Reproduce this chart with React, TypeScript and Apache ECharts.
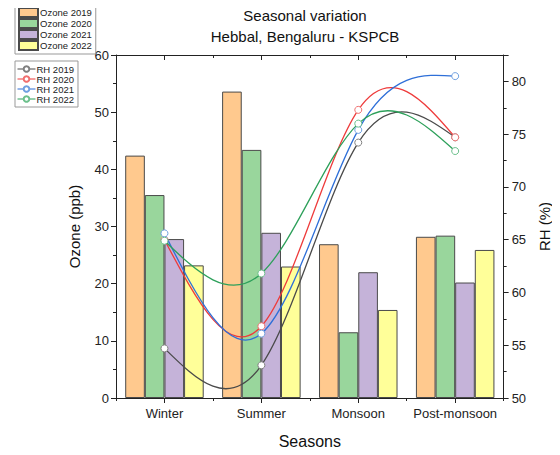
import React, { useEffect, useRef } from "react";
import * as echarts from "echarts";

const seasons = ["Winter", "Summer", "Monsoon", "Post-monsoon"];

const ozoneNames = ["Ozone 2019", "Ozone 2020", "Ozone 2021", "Ozone 2022"];
const ozone2019 = [42.4, 53.6, 26.9, 28.2];
const ozone2020 = [35.5, 43.4, 11.5, 28.4];
const ozone2021 = [27.8, 28.9, 22.0, 20.2];
const ozone2022 = [23.2, 23.0, 15.4, 25.9];

const rhNames = ["RH 2019", "RH 2020", "RH 2021", "RH 2022"];
const rh2019 = [54.7, 53.1, 74.2, 74.7];
const rh2020 = [65.0, 56.8, 77.3, 74.7];
const rh2021 = [65.6, 56.1, 75.4, 80.5];
const rh2022 = [64.9, 61.8, 76.0, 73.4];

const barColors = ["#FFC98E", "#99D69C", "#C5B3D9", "#FFFF99"];
const lineColors = ["#4a4a4a", "#EE3B3B", "#2E6FD8", "#2DA05A"];
const markerColors = ["#808080", "#F07070", "#6FA0E0", "#6CC08C"];

// natural cubic spline through pixel points -> SVG path (bezier segments)
function splinePath(pts: number[][]): string {
  const n = pts.length;
  if (n < 2) return "";
  const h = pts[1][0] - pts[0][0];
  const y = pts.map((p) => p[1]);
  const M = new Array(n).fill(0);
  if (n === 4) {
    const r1 = (6 / (h * h)) * (y[2] - 2 * y[1] + y[0]);
    const r2 = (6 / (h * h)) * (y[3] - 2 * y[2] + y[1]);
    M[1] = (4 * r1 - r2) / 15;
    M[2] = (4 * r2 - r1) / 15;
  }
  const d: number[] = [];
  for (let i = 0; i < n - 1; i++) {
    d[i] = (y[i + 1] - y[i]) / h - (h * (2 * M[i] + M[i + 1])) / 6;
  }
  d[n - 1] = (y[n - 1] - y[n - 2]) / h + (h * (M[n - 2] + 2 * M[n - 1])) / 6;
  let s = `M${pts[0][0]},${pts[0][1]}`;
  for (let i = 0; i < n - 1; i++) {
    const x0 = pts[i][0];
    const x1 = pts[i + 1][0];
    const c1x = x0 + h / 3;
    const c1y = y[i] + (d[i] * h) / 3;
    const c2x = x1 - h / 3;
    const c2y = y[i + 1] - (d[i + 1] * h) / 3;
    s += ` C${c1x},${c1y} ${c2x},${c2y} ${x1},${y[i + 1]}`;
  }
  return s;
}

export default function App() {
  const ref = useRef<HTMLDivElement>(null);
  useEffect(() => {
    if (!ref.current) return;
    const chart = echarts.init(ref.current, null, { renderer: "svg" });
    const ozoneData = [ozone2019, ozone2020, ozone2021, ozone2022];
    const rhData = [rh2019, rh2020, rh2021, rh2022];
    const font = "Arial, 'Liberation Sans', sans-serif";

    const barSeries = ozoneData.map((arr, i) => ({
      name: ozoneNames[i],
      type: "bar",
      xAxisIndex: 0,
      yAxisIndex: 0,
      data: arr,
      barGap: "0%",
      barCategoryGap: "19%",
      itemStyle: { color: barColors[i], borderColor: "#4a4a4a", borderWidth: 1 },
      z: 1,
    }));

    const curveSeries = rhData.map((arr, i) => ({
      name: rhNames[i] + " curve",
      type: "custom",
      xAxisIndex: 0,
      yAxisIndex: 1,
      data: arr.map((v, j) => [j, v]),
      z: 3,
      silent: true,
      renderItem: (params: any, api: any) => {
        if (params.dataIndex !== 0) return null;
        const pts = arr.map((v, j) => api.coord([j, v]));
        return {
          type: "path",
          shape: { pathData: splinePath(pts) },
          style: { stroke: lineColors[i], fill: "none", lineWidth: 1.3 },
        };
      },
    }));

    const markerSeries = rhData.map((arr, i) => ({
      name: rhNames[i],
      type: "line",
      xAxisIndex: 0,
      yAxisIndex: 1,
      data: arr,
      symbol: "circle",
      symbolSize: 7,
      showSymbol: true,
      lineStyle: { color: lineColors[i], width: 1, opacity: 0 },
      itemStyle: { color: "#ffffff", borderColor: markerColors[i], borderWidth: 1 },
      z: 4,
    }));

    const catTickCommon = { interval: 0 };

    const option: any = {
      animation: false,
      backgroundColor: "#ffffff",
      textStyle: { fontFamily: font },
      title: {
        text: "Seasonal variation\nHebbal, Bengaluru - KSPCB",
        left: 300,
        top: 0,
        textAlign: "center",
        textStyle: { fontSize: 15, fontWeight: "normal", color: "#111", lineHeight: 21, fontFamily: font },
      },
      legend: [
        {
          data: ozoneNames,
          orient: "vertical",
          left: 15,
          top: 4,
          itemWidth: 19,
          itemHeight: 9,
          itemGap: 0,
          padding: [3, 4, 3, 3],
          borderColor: "#999",
          borderWidth: 1,
          icon: "rect",
          textStyle: { fontSize: 9.5, lineHeight: 10, color: "#222", padding: [0, 0, 0, -3], fontFamily: font },
        },
        {
          data: rhNames,
          orient: "vertical",
          left: 15,
          top: 61,
          itemWidth: 18,
          itemHeight: 7,
          itemGap: 0,
          padding: [3, 4, 3, 2],
          borderColor: "#999",
          borderWidth: 1,
          lineStyle: { opacity: 1, width: 1 },
          textStyle: { fontSize: 9.5, lineHeight: 9.5, color: "#222", padding: [0, 0, 0, -4], fontFamily: font },
        },
      ],
      grid: { left: 116, right: 49, top: 55, bottom: 57, containLabel: false },
      xAxis: [
        {
          type: "category",
          data: seasons,
          position: "bottom",
          boundaryGap: true,
          name: "Seasons",
          nameLocation: "middle",
          nameGap: 35,
          nameTextStyle: { fontSize: 16, color: "#111", fontFamily: font },
          axisLine: { show: true, lineStyle: { color: "#222", width: 1 } },
          axisTick: { show: true, alignWithLabel: true, length: 5, lineStyle: { color: "#222" }, ...catTickCommon },
          axisLabel: { fontSize: 13, color: "#222", margin: 9, fontFamily: font, interval: 0 },
          splitLine: { show: false },
        },
        {
          type: "category",
          data: seasons,
          position: "bottom",
          boundaryGap: true,
          axisLine: { show: false },
          axisTick: { show: true, length: 3, lineStyle: { color: "#222" }, ...catTickCommon },
          axisLabel: { show: false },
          splitLine: { show: false },
        },
        {
          type: "category",
          data: seasons,
          position: "top",
          boundaryGap: true,
          axisLine: { show: true, lineStyle: { color: "#222", width: 1 } },
          axisTick: { show: true, inside: true, alignWithLabel: true, length: 5, lineStyle: { color: "#222" }, ...catTickCommon },
          axisLabel: { show: false },
          splitLine: { show: false },
        },
        {
          type: "category",
          data: seasons,
          position: "top",
          boundaryGap: true,
          axisLine: { show: false },
          axisTick: { show: true, inside: true, length: 3, lineStyle: { color: "#222" }, ...catTickCommon },
          axisLabel: { show: false },
          splitLine: { show: false },
        },
      ],
      yAxis: [
        {
          type: "value",
          position: "left",
          min: 0,
          max: 60,
          interval: 10,
          name: "Ozone (ppb)",
          nameLocation: "middle",
          nameRotate: 90,
          nameGap: 34,
          nameTextStyle: { fontSize: 15, color: "#111", fontFamily: font },
          axisLine: { show: true, lineStyle: { color: "#222", width: 1 } },
          axisTick: { show: true, length: 5, lineStyle: { color: "#222" } },
          minorTick: { show: true, splitNumber: 2, length: 3, lineStyle: { color: "#222" } },
          axisLabel: { fontSize: 13, color: "#222", margin: 7, fontFamily: font },
          splitLine: { show: false },
          minorSplitLine: { show: false },
        },
        {
          type: "value",
          position: "right",
          min: 50,
          max: 82.5,
          interval: 5,
          name: "RH (%)",
          nameLocation: "middle",
          nameRotate: 90,
          nameGap: 30,
          nameTextStyle: { fontSize: 15, color: "#111", fontFamily: font },
          axisLine: { show: true, lineStyle: { color: "#222", width: 1 } },
          axisTick: { show: true, length: 5, lineStyle: { color: "#222" } },
          minorTick: { show: true, splitNumber: 2, length: 3, lineStyle: { color: "#222" } },
          axisLabel: { fontSize: 13, color: "#222", margin: 8, showMaxLabel: false, fontFamily: font },
          splitLine: { show: false },
          minorSplitLine: { show: false },
        },
      ],
      series: [...barSeries, ...curveSeries, ...markerSeries],
    };
    chart.setOption(option);
    return () => chart.dispose();
  }, []);
  return <div ref={ref} style={{ width: 560, height: 455, margin: -8 }} />;
}
